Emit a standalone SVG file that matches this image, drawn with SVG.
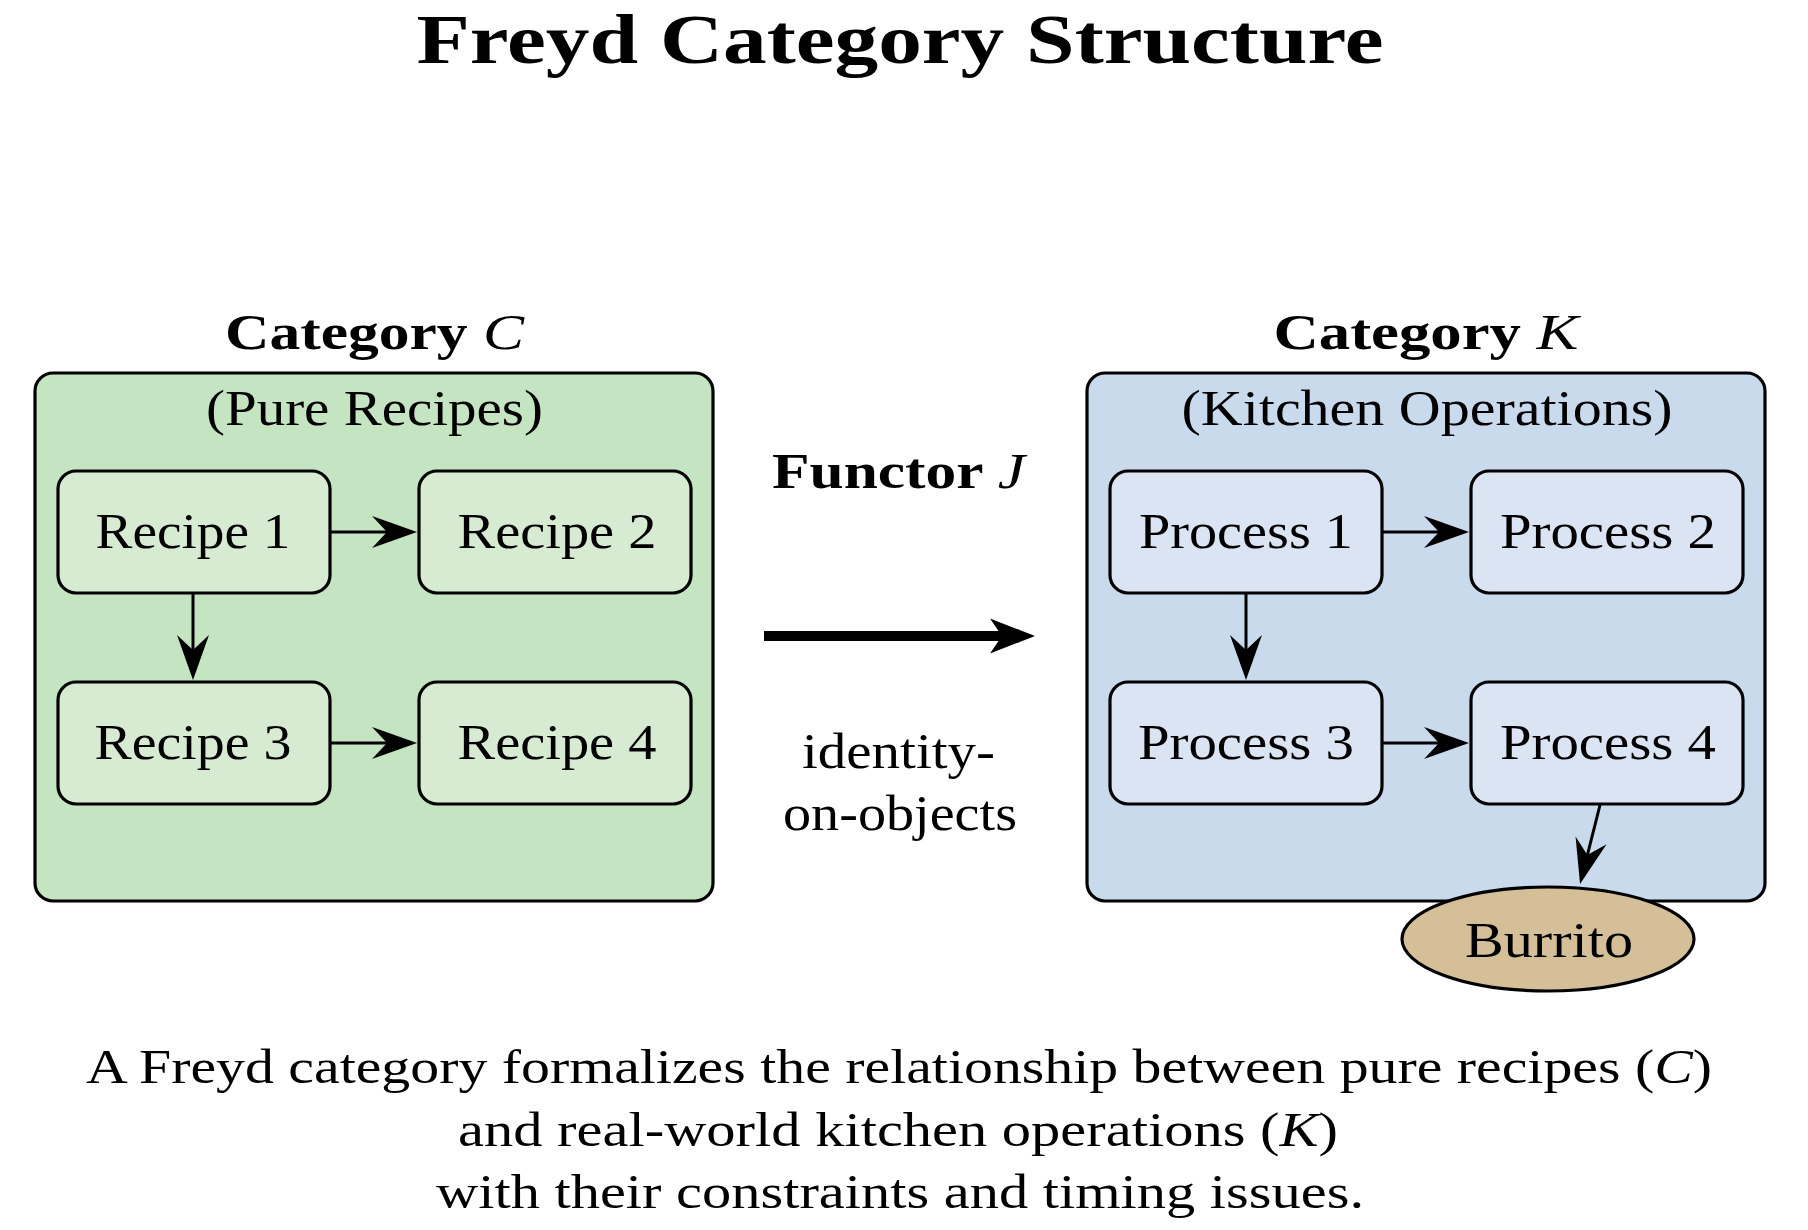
<svg xmlns="http://www.w3.org/2000/svg" width="1808" height="1230" viewBox="0 0 1808 1230">
  <style>
    text { font-family: "Liberation Serif", "Times New Roman", serif; fill: #000; }
    .title { font-size: 70px; font-weight: bold; }
    .head { font-size: 50px; font-weight: bold; }
    .sub { font-size: 50px; }
    .lbl { font-size: 50px; }
    .cap { font-size: 48px; }
    .it { font-style: italic; font-weight: normal; }
    .contC { fill: #c5e4c1; stroke: #000; stroke-width: 3.2; }
    .contK { fill: #c9daed; stroke: #000; stroke-width: 3.2; }
    .boxC { fill: #d6ebd2; stroke: #000; stroke-width: 3.2; }
    .boxK { fill: #dbe4f3; stroke: #000; stroke-width: 3.2; }
    .burrito { fill: #d5bf98; stroke: #000; stroke-width: 3.2; }
    .edge { stroke: #000; stroke-width: 3; fill: none; marker-end: url(#head); }
    .functor { stroke: #000; stroke-width: 10; fill: none; marker-end: url(#bighead); }
  </style>
  <defs>
    <marker id="head" markerUnits="userSpaceOnUse" viewBox="0 -20 50 40" markerWidth="50" markerHeight="40" refX="35" refY="0" orient="auto" overflow="visible">
      <path d="M45,0 L0,-16 L15,0 L0,16 Z" fill="#000"/>
    </marker>
    <marker id="bighead" markerUnits="userSpaceOnUse" viewBox="0 -20 50 40" markerWidth="50" markerHeight="40" refX="25" refY="0" orient="auto" overflow="visible">
      <path d="M45,0 L0,-17.5 L12,0 L0,17.5 Z" fill="#000"/>
    </marker>
  </defs>

  <text class="title" x="900" y="63" text-anchor="middle" textLength="967" lengthAdjust="spacingAndGlyphs">Freyd Category Structure</text>

  <g id="categoryC">
    <text class="head" x="374.5" y="349" text-anchor="middle" textLength="299" lengthAdjust="spacingAndGlyphs">Category <tspan class="it">C</tspan></text>
    <rect class="contC" x="35" y="373" width="678" height="528" rx="18"/>
    <text class="sub" x="374.5" y="425" text-anchor="middle" textLength="337" lengthAdjust="spacingAndGlyphs">(Pure Recipes)</text>
  </g>

  <g id="categoryK">
    <text class="head" x="1426" y="349" text-anchor="middle" textLength="305" lengthAdjust="spacingAndGlyphs">Category <tspan class="it">K</tspan></text>
    <rect class="contK" x="1087" y="373" width="678" height="528" rx="18"/>
    <text class="sub" x="1427" y="425" text-anchor="middle" textLength="491" lengthAdjust="spacingAndGlyphs">(Kitchen Operations)</text>
  </g>

  <g id="recipe1">
    <rect class="boxC" x="58" y="471" width="272" height="122" rx="18"/>
    <text class="lbl" x="193" y="548" text-anchor="middle" textLength="195" lengthAdjust="spacingAndGlyphs">Recipe 1</text>
  </g>
  <g id="recipe2">
    <rect class="boxC" x="419" y="471" width="272" height="122" rx="18"/>
    <text class="lbl" x="557" y="548" text-anchor="middle" textLength="199" lengthAdjust="spacingAndGlyphs">Recipe 2</text>
  </g>
  <g id="recipe3">
    <rect class="boxC" x="58" y="682" width="272" height="122" rx="18"/>
    <text class="lbl" x="193" y="759" text-anchor="middle" textLength="197" lengthAdjust="spacingAndGlyphs">Recipe 3</text>
  </g>
  <g id="recipe4">
    <rect class="boxC" x="419" y="682" width="272" height="122" rx="18"/>
    <text class="lbl" x="557" y="759" text-anchor="middle" textLength="199" lengthAdjust="spacingAndGlyphs">Recipe 4</text>
  </g>

  <g id="process1">
    <rect class="boxK" x="1110" y="471" width="272" height="122" rx="18"/>
    <text class="lbl" x="1246" y="548" text-anchor="middle" textLength="214" lengthAdjust="spacingAndGlyphs">Process 1</text>
  </g>
  <g id="process2">
    <rect class="boxK" x="1471" y="471" width="272" height="122" rx="18"/>
    <text class="lbl" x="1608" y="548" text-anchor="middle" textLength="216" lengthAdjust="spacingAndGlyphs">Process 2</text>
  </g>
  <g id="process3">
    <rect class="boxK" x="1110" y="682" width="272" height="122" rx="18"/>
    <text class="lbl" x="1246" y="759" text-anchor="middle" textLength="216" lengthAdjust="spacingAndGlyphs">Process 3</text>
  </g>
  <g id="process4">
    <rect class="boxK" x="1471" y="682" width="272" height="122" rx="18"/>
    <text class="lbl" x="1608" y="759" text-anchor="middle" textLength="216" lengthAdjust="spacingAndGlyphs">Process 4</text>
  </g>

  <g id="burrito">
    <ellipse class="burrito" cx="1548" cy="939" rx="146" ry="52"/>
    <text class="lbl" x="1549" y="957" text-anchor="middle" textLength="168" lengthAdjust="spacingAndGlyphs">Burrito</text>
  </g>

  <g id="functorLabel">
    <text class="head" x="898.5" y="488" text-anchor="middle" textLength="253" lengthAdjust="spacingAndGlyphs">Functor <tspan class="it">J</tspan></text>
    <text class="sub" x="898.5" y="768" text-anchor="middle" textLength="193" lengthAdjust="spacingAndGlyphs">identity-</text>
    <text class="sub" x="900" y="830" text-anchor="middle" textLength="234" lengthAdjust="spacingAndGlyphs">on-objects</text>
  </g>

  <g id="connectors">
    <line class="edge" x1="330" y1="532" x2="407" y2="532"/>
    <line class="edge" x1="193" y1="593" x2="193" y2="670"/>
    <line class="edge" x1="330" y1="743" x2="407" y2="743"/>
    <line class="edge" x1="1382" y1="532" x2="1459" y2="532"/>
    <line class="edge" x1="1246" y1="593" x2="1246" y2="670"/>
    <line class="edge" x1="1382" y1="743" x2="1459" y2="743"/>
    <line class="edge" x1="1600" y1="805" x2="1582.5" y2="874.3"/>
    <line class="functor" x1="764" y1="636" x2="1015" y2="636"/>
  </g>

  <g id="caption">
    <text class="cap" x="899" y="1083" text-anchor="middle" textLength="1626" lengthAdjust="spacingAndGlyphs">A Freyd category formalizes the relationship between pure recipes (<tspan class="it">C</tspan>)</text>
    <text class="cap" x="898" y="1146" text-anchor="middle" textLength="880" lengthAdjust="spacingAndGlyphs">and real-world kitchen operations (<tspan class="it">K</tspan>)</text>
    <text class="cap" x="900" y="1208" text-anchor="middle" textLength="928" lengthAdjust="spacingAndGlyphs">with their constraints and timing issues.</text>
  </g>
</svg>
